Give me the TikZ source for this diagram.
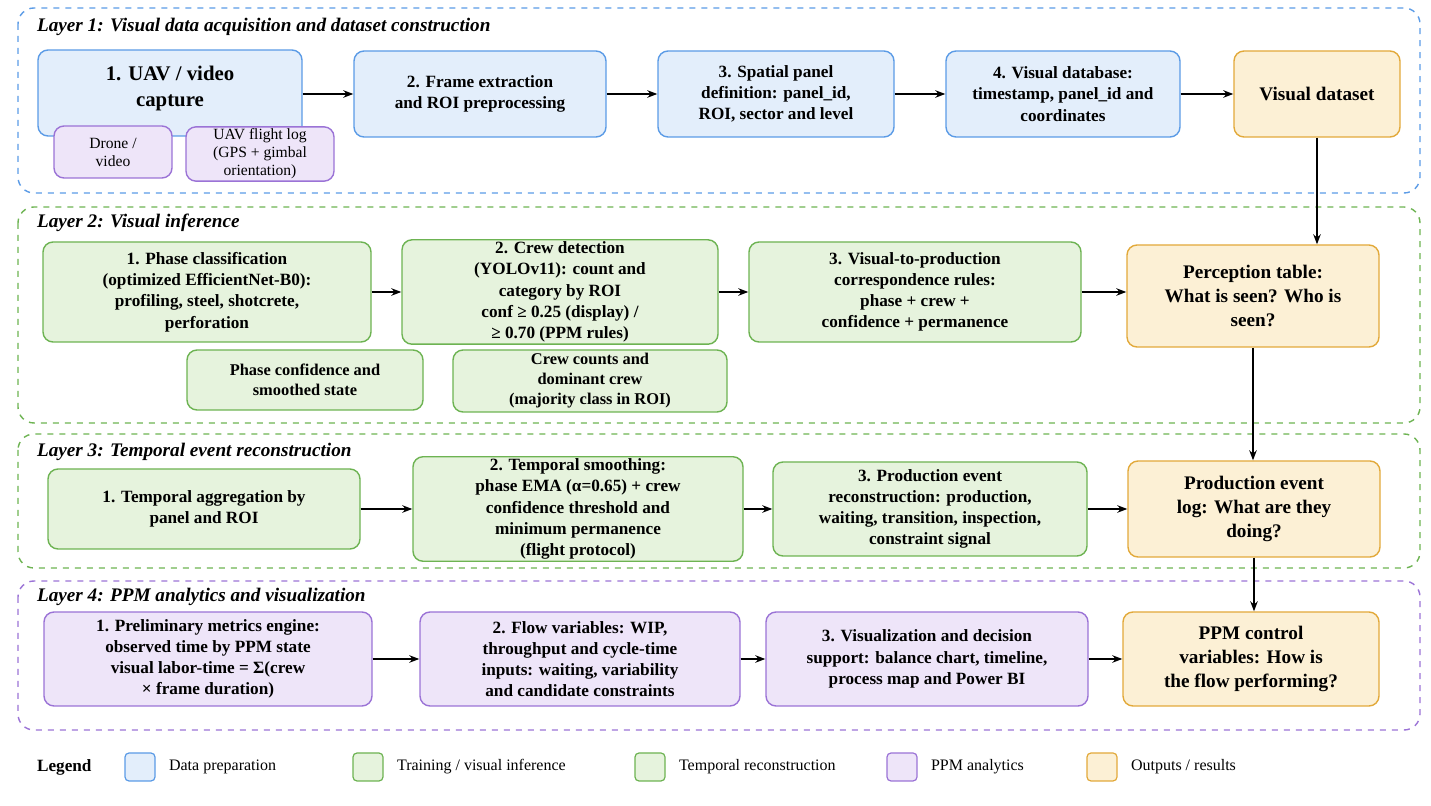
\documentclass[tikz,border=0pt]{standalone}
\usepackage{fontspec}
\setmainfont{Liberation Serif}
\usetikzlibrary{arrows.meta}
\definecolor{bluefill}{HTML}{E3EEFB}
\definecolor{blueline}{HTML}{5B9BE6}
\definecolor{greenfill}{HTML}{E6F3DD}
\definecolor{greenline}{HTML}{6DB352}
\definecolor{purplefill}{HTML}{EEE5F9}
\definecolor{purpleline}{HTML}{9B73D6}
\definecolor{orangefill}{HTML}{FCF0D5}
\definecolor{orangeline}{HTML}{E2A93A}
\begin{document}
\begin{tikzpicture}[x=0.5pt,y=-0.5pt,
  box/.style={rounded corners=5pt,line width=0.7pt,align=center,inner sep=1pt,
    font=\fontsize{8.6}{10.6}\selectfont\bfseries},
  bluebox/.style={box,draw=blueline,fill=bluefill},
  greenbox/.style={box,draw=greenline,fill=greenfill},
  purplebox/.style={box,draw=purpleline,fill=purplefill},
  outbox/.style={box,draw=orangeline,fill=orangefill,font=\fontsize{9.6}{12}\selectfont\bfseries},
  subbox/.style={font=\fontsize{7.8}{9}\selectfont},
  layer/.style={rounded corners=8pt,dashed,line width=0.7pt},
  title/.style={anchor=west,font=\fontsize{9.6}{11}\selectfont\bfseries\itshape},
  flow/.style={-{Stealth[length=5pt]},line width=0.8pt},
  swatch/.style={rounded corners=2pt,line width=0.6pt,minimum width=15pt,minimum height=14pt},
  legtext/.style={anchor=west,font=\fontsize{8}{9}\selectfont}]
\useasboundingbox (0,0) rectangle (1431,806);

% layer frames
\draw[layer,blueline] (18,8) rectangle (1420,193);
\draw[layer,greenline] (18,207) rectangle (1420,423);
\draw[layer,greenline] (18,434) rectangle (1420,568);
\draw[layer,purpleline] (18,581) rectangle (1420,730);
\node[title] (t1) at (30,27) {Layer 1: Visual data acquisition and dataset construction};
\node[title] (t2) at (30,223) {Layer 2: Visual inference};
\node[title] (t3) at (30,452) {Layer 3: Temporal event reconstruction};
\node[title] (t4) at (30,597) {Layer 4: PPM analytics and visualization};

% layer 1
\node[bluebox,minimum width=132pt,minimum height=43pt] (capture) at (170,93) {};
\node[font=\fontsize{10.4}{13}\selectfont\bfseries,align=center] (capturetext) at (170,89) {1. UAV / video\\capture};
\node[purplebox,subbox,minimum width=59pt,minimum height=26pt] (drone) at (113,152) {Drone /\\video};
\node[purplebox,subbox,minimum width=74pt,minimum height=27pt] (flightlog) at (260,154) {UAV flight log\\(GPS + gimbal\\orientation)};
\node[bluebox,minimum width=126pt,minimum height=43pt] (frames) at (480,94) {2. Frame extraction\\and ROI preprocessing};
\node[bluebox,minimum width=118pt,minimum height=43pt] (panels) at (776,94) {3. Spatial panel\\definition: panel\_id,\\ROI, sector and level};
\node[bluebox,minimum width=117pt,minimum height=43pt] (database) at (1063,94) {4. Visual database:\\timestamp, panel\_id and\\coordinates};
\node[outbox,minimum width=83pt,minimum height=43pt] (dataset) at (1317,94) {Visual dataset};
\draw[flow] (capture.east |- 0,94) -- (frames.west);
\draw[flow] (frames) -- (panels);
\draw[flow] (panels) -- (database);
\draw[flow] (database) -- (dataset);

% layer 2
\node[greenbox,minimum width=164pt,minimum height=50pt] (phase) at (207,292) {1. Phase classification\\(optimized EfficientNet-B0):\\profiling, steel, shotcrete,\\perforation};
\node[greenbox,minimum width=158pt,minimum height=50pt] (crew) at (560,292) {2. Crew detection\\(YOLOv11): count and\\category by ROI\\conf ≥ 0.25 (display) /\\≥ 0.70 (PPM rules)};
\node[greenbox,minimum width=166pt,minimum height=50pt] (rules) at (915,292) {3. Visual-to-production\\correspondence rules:\\phase + crew +\\confidence + permanence};
\node[outbox,minimum width=126pt,minimum height=51pt] (perception) at (1253,296) {Perception table:\\What is seen? Who is\\seen?};
\node[greenbox,minimum width=118pt,minimum height=30pt,font=\fontsize{8.2}{10}\selectfont\bfseries] (phaseconf) at (305,380) {Phase confidence and\\smoothed state};
\node[greenbox,minimum width=137pt,minimum height=31pt,font=\fontsize{8.2}{10}\selectfont\bfseries] (crewcount) at (590,381) {Crew counts and\\dominant crew\\(majority class in ROI)};
\draw[flow] (phase) -- (crew);
\draw[flow] (crew) -- (rules);
\draw[flow] (rules.east) -- (rules.east -| perception.west);
\draw[flow] (dataset.south) -- (dataset.south |- perception.north);

% layer 3
\node[greenbox,minimum width=156pt,minimum height=40pt] (aggregation) at (204,509) {1. Temporal aggregation by\\panel and ROI};
\node[greenbox,minimum width=165pt,minimum height=47pt] (smoothing) at (578,509) {2. Temporal smoothing:\\phase EMA (α=0.65) + crew\\confidence threshold and\\minimum permanence\\(flight protocol)};
\node[greenbox,minimum width=157pt,minimum height=47pt] (events) at (930,509) {3. Production event\\reconstruction: production,\\waiting, transition, inspection,\\constraint signal};
\node[outbox,minimum width=126pt,minimum height=48pt] (eventlog) at (1254,509) {Production event\\log: What are they\\doing?};
\draw[flow] (aggregation) -- (smoothing);
\draw[flow] (smoothing) -- (events);
\draw[flow] (events) -- (eventlog);
\draw[flow] (perception.south) -- (perception.south |- eventlog.north);

% layer 4
\node[purplebox,minimum width=164pt,minimum height=47pt] (metrics) at (208,659) {1. Preliminary metrics engine:\\observed time by PPM state\\visual labor-time = Σ(crew\\× frame duration)};
\node[purplebox,minimum width=160pt,minimum height=47pt] (flowvars) at (580,659) {2. Flow variables: WIP,\\throughput and cycle-time\\inputs: waiting, variability\\and candidate constraints};
\node[purplebox,minimum width=161pt,minimum height=47pt] (dashboard) at (927,659) {3. Visualization and decision\\support: balance chart, timeline,\\process map and Power BI};
\node[outbox,minimum width=128pt,minimum height=47pt] (control) at (1251,659) {PPM control\\variables: How is\\the flow performing?};
\draw[flow] (metrics) -- (flowvars);
\draw[flow] (flowvars) -- (dashboard);
\draw[flow] (dashboard) -- (control);
\draw[flow] (eventlog.south) -- (eventlog.south |- control.north);

% legend
\node[anchor=west,font=\fontsize{8.6}{10}\selectfont\bfseries] (legend) at (30,767) {Legend};
\node[swatch,draw=blueline,fill=bluefill] (lg1) at (140,767) {};
\node[legtext] (lt1) at (162,767) {Data preparation};
\node[swatch,draw=greenline,fill=greenfill] (lg2) at (368,767) {};
\node[legtext] (lt2) at (390,767) {Training / visual inference};
\node[swatch,draw=greenline,fill=greenfill] (lg3) at (650,767) {};
\node[legtext] (lt3) at (672,767) {Temporal reconstruction};
\node[swatch,draw=purpleline,fill=purplefill] (lg4) at (902,767) {};
\node[legtext] (lt4) at (924,767) {PPM analytics};
\node[swatch,draw=orangeline,fill=orangefill] (lg5) at (1102,767) {};
\node[legtext] (lt5) at (1124,767) {Outputs / results};
\end{tikzpicture}
\end{document}
